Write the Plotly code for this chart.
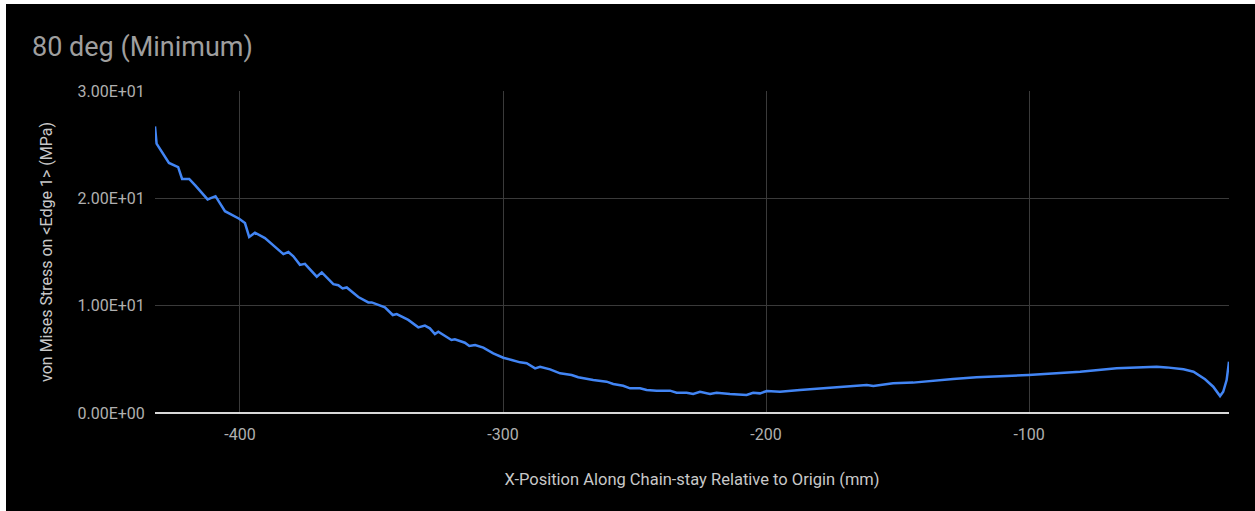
import plotly.graph_objects as go

# Stress profile along the chain-stay edge
x_mm = [
    -432.3, -431.7, -427.0, -423.5, -422.0, -419.3, -417.0, -412.3, -409.3, -405.7,
    -400.3, -398.1, -396.5, -394.3, -390.5, -383.5, -381.6, -379.7, -377.2, -375.3,
    -370.8, -368.9, -364.5, -362.6, -361.0, -359.4, -355.0, -351.2, -349.9, -344.9,
    -341.9, -340.4, -336.0, -332.2, -329.7, -327.8, -325.9, -324.6, -319.6, -318.3,
    -314.5, -312.8, -310.6, -307.5, -303.7, -299.9, -296.7, -293.5, -291.0, -287.8,
    -285.9, -282.1, -278.3, -273.9, -271.4, -265.7, -260.6, -258.1, -254.3, -251.7,
    -247.9, -245.4, -241.6, -236.5, -234.0, -230.2, -227.7, -225.1, -221.3, -218.8,
    -213.7, -207.4, -204.9, -202.3, -199.7, -194.7, -187.1, -177.0, -170.6, -161.7,
    -159.2, -151.7, -144.1, -136.5, -128.9, -120.0, -107.2, -100.2, -80.6, -66.7,
    -51.5, -47.7, -41.3, -37.5, -33.1, -30.0, -27.4, -26.2, -24.9, -24.0,
]
stress_mpa = [
    26.7, 25.1, 23.3, 22.9, 21.8, 21.8, 21.2, 19.9, 20.2, 18.8,
    18.1, 17.7, 16.4, 16.8, 16.3, 14.8, 15.0, 14.6, 13.8, 13.9,
    12.7, 13.1, 12.0, 11.9, 11.6, 11.7, 10.8, 10.3, 10.3, 9.85,
    9.13, 9.22, 8.67, 7.98, 8.14, 7.89, 7.36, 7.58, 6.80, 6.87,
    6.55, 6.24, 6.34, 6.09, 5.56, 5.15, 4.94, 4.72, 4.63, 4.16,
    4.31, 4.07, 3.70, 3.54, 3.33, 3.07, 2.92, 2.70, 2.54, 2.30,
    2.30, 2.14, 2.08, 2.08, 1.89, 1.89, 1.77, 1.98, 1.77, 1.89,
    1.77, 1.68, 1.89, 1.83, 2.05, 1.98, 2.14, 2.30, 2.45, 2.61,
    2.52, 2.77, 2.83, 3.01, 3.17, 3.33, 3.45, 3.54, 3.85, 4.16,
    4.31, 4.25, 4.07, 3.85, 3.14, 2.45, 1.58, 1.98, 3.07, 4.78,
]

y_tickvals = [0, 10, 20, 30]
y_ticktext = ["0.00E+00", "1.00E+01", "2.00E+01", "3.00E+01"]
x_tickvals = [-400, -300, -200, -100]
x_ticktext = ["-400", "-300", "-200", "-100"]

W, H = 1255, 511
ML, MR, MT, MB = 155, 26, 91, 98
PW, PH = W - ML - MR, H - MT - MB

def px_x(p):
    return (p - ML) / PW

def px_y(p):
    return (H - MB - p) / PH

fig = go.Figure()
fig.add_trace(go.Scatter(
    x=x_mm, y=stress_mpa, mode="lines",
    line=dict(color="#4285f4", width=2.5),
    showlegend=False,
))

font = "Roboto, Arial, sans-serif"

fig.update_layout(
    width=W, height=H,
    margin=dict(l=ML, r=MR, t=MT, b=MB),
    paper_bgcolor="#000000",
    plot_bgcolor="#000000",
    font=dict(family=font, color="#b0b0b0"),
    title=dict(
        text="80 deg (Minimum)",
        x=32 / W, xanchor="left", xref="container",
        y=1 - 47 / H, yanchor="middle",
        font=dict(family=font, size=27, color="#9e9e9e"),
    ),
    xaxis=dict(
        range=[-432.3, -24.0],
        tickvals=x_tickvals, ticktext=x_ticktext,
        ticks="outside", ticklen=7, tickcolor="rgba(0,0,0,0)",
        tickfont=dict(family=font, size=16, color="#b0b0b0"),
        showgrid=True, gridcolor="#3a3a3a", gridwidth=1,
        zeroline=False, showline=False,
        title=dict(
            text="X-Position Along Chain-stay Relative to Origin (mm)",
            font=dict(family=font, size=16.5, color="#c8c8c8"),
            standoff=30,
        ),
        automargin=False,
    ),
    yaxis=dict(
        range=[0, 30],
        tickvals=y_tickvals, ticktext=y_ticktext,
        ticks="outside", ticklen=6, tickcolor="rgba(0,0,0,0)",
        tickfont=dict(family=font, size=16, color="#b0b0b0"),
        showgrid=True, gridcolor="#3a3a3a", gridwidth=1,
        zeroline=True, zerolinecolor="#d9d9d9", zerolinewidth=1.5,
        showline=False,
        title=dict(
            text="von Mises Stress on &lt;Edge 1&gt; (MPa)",
            font=dict(family=font, size=16, color="#c8c8c8"),
            standoff=20,
        ),
        automargin=False,
    ),
    shapes=[
        # thin white frame strips along the left and top edges
        dict(type="rect", xref="paper", yref="paper", layer="above",
             x0=px_x(0), x1=px_x(6), y0=px_y(H), y1=px_y(0),
             fillcolor="#ffffff", line=dict(width=0)),
        dict(type="rect", xref="paper", yref="paper", layer="above",
             x0=px_x(0), x1=px_x(W), y0=px_y(4), y1=px_y(0),
             fillcolor="#ffffff", line=dict(width=0)),
    ],
)

fig.write_html("out.html")
